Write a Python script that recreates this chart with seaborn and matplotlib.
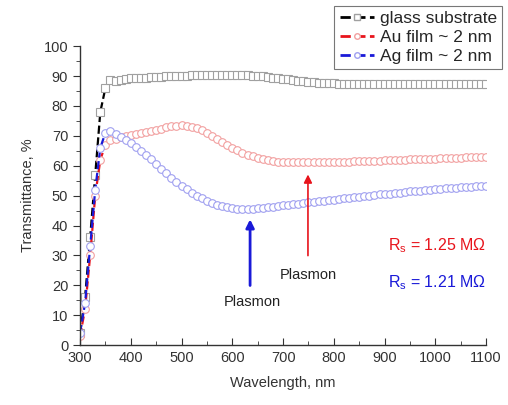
import numpy as np
import pandas as pd
import matplotlib
matplotlib.use("Agg")
import matplotlib.pyplot as plt
import seaborn as sns
from matplotlib.ticker import MultipleLocator
from matplotlib.lines import Line2D

wavelength = list(range(300, 1101, 10))

glass = [4, 16, 36, 57, 78, 86, 88.8, 88.3, 88.6, 89.0,
         89.2, 89.3, 89.4, 89.5, 89.6, 89.7, 89.8, 89.9, 90.0, 90.0,
         90.1, 90.1, 90.2, 90.2, 90.2, 90.3, 90.3, 90.3, 90.3, 90.3,
         90.3, 90.3, 90.2, 90.2, 90.1, 90.0, 89.9, 89.7, 89.5, 89.3,
         89.1, 88.9, 88.6, 88.4, 88.2, 88.0, 87.9, 87.8, 87.7, 87.6,
         87.6, 87.5, 87.5, 87.4, 87.4, 87.4, 87.4, 87.3, 87.3, 87.3,
         87.3, 87.3, 87.3, 87.2, 87.2, 87.2, 87.2, 87.2, 87.2, 87.2,
         87.2, 87.2, 87.2, 87.2, 87.2, 87.2, 87.2, 87.2, 87.2, 87.2,
         87.2]

au_film = [3, 12, 30, 50, 62, 67, 68.5, 69.0, 69.5, 70.0,
           70.3, 70.6, 71.0, 71.3, 71.7, 72.0, 72.4, 72.8, 73.2, 73.4,
           73.5, 73.3, 73.0, 72.5, 71.8, 71.0, 70.0, 69.0, 68.0, 67.0,
           66.0, 65.2, 64.4, 63.7, 63.1, 62.6, 62.2, 61.9, 61.6, 61.4,
           61.3, 61.2, 61.2, 61.1, 61.1, 61.1, 61.1, 61.1, 61.2, 61.2,
           61.3, 61.3, 61.4, 61.4, 61.5, 61.5, 61.6, 61.6, 61.7, 61.7,
           61.8, 61.9, 61.9, 62.0, 62.0, 62.1, 62.2, 62.2, 62.3, 62.3,
           62.4, 62.5, 62.5, 62.6, 62.6, 62.7, 62.8, 62.8, 62.9, 62.9,
           63.0]

ag_film = [4, 14, 33, 52, 66, 71, 71.5, 70.5, 69.5, 68.5,
           67.5, 66.3, 65.0, 63.6, 62.2, 60.6, 59.0, 57.5, 56.0, 54.6,
           53.3, 52.1, 51.0, 50.0, 49.1, 48.3, 47.6, 47.0, 46.5, 46.1,
           45.8, 45.6, 45.5, 45.5, 45.6, 45.7, 45.9, 46.1, 46.3, 46.5,
           46.7, 46.9, 47.1, 47.3, 47.5, 47.7, 47.9, 48.1, 48.3, 48.5,
           48.7, 48.9, 49.1, 49.3, 49.5, 49.6, 49.8, 50.0, 50.2, 50.4,
           50.5, 50.7, 50.9, 51.0, 51.2, 51.4, 51.6, 51.7, 51.9, 52.0,
           52.1, 52.3, 52.4, 52.6, 52.7, 52.8, 52.9, 53.0, 53.1, 53.2,
           53.3]

series_labels = ["glass substrate", "Au film ~ 2 nm", "Ag film ~ 2 nm"]

sns.set_style("ticks")
plt.rcParams["font.family"] = ["Liberation Sans", "DejaVu Sans"]

fig = plt.figure(figsize=(5.08, 4.05), dpi=100)
ax = fig.add_axes([0.1575, 0.148, 0.7995, 0.738])

styles = [
    (glass, "black", "#a0a0a0", "s"),
    (au_film, "#e8141c", "#f2a0a0", "o"),
    (ag_film, "#1a1ad8", "#a0a0f0", "o"),
]
handles = []
for (vals, lc, mc, mk), lab in zip(styles, series_labels):
    df = pd.DataFrame({"wl": wavelength, "T": vals})
    sns.lineplot(data=df, x="wl", y="T", ax=ax, color=lc, linestyle="--",
                 linewidth=1.6, marker=mk, markersize=5.5,
                 markerfacecolor="white", markeredgecolor=mc,
                 markeredgewidth=0.8, legend=False)
    handles.append(Line2D([], [], color=lc, linestyle="--", linewidth=2.0,
                          marker=mk, markersize=4, markerfacecolor="white",
                          markeredgecolor=mc, label=lab))

ax.set_xlim(300, 1100)
ax.set_ylim(0, 100)
ax.xaxis.set_major_locator(MultipleLocator(100))
ax.xaxis.set_minor_locator(MultipleLocator(50))
ax.yaxis.set_major_locator(MultipleLocator(10))
ax.yaxis.set_minor_locator(MultipleLocator(5))
sns.despine(ax=ax)
for s in ["left", "bottom"]:
    ax.spines[s].set_color("#333333")
    ax.spines[s].set_linewidth(1.0)
ax.tick_params(axis="y", which="major", direction="out", length=5, labelsize=10.5, colors="#333333")
ax.tick_params(axis="y", which="minor", direction="out", length=3, colors="#333333")
ax.tick_params(axis="x", which="major", direction="in", length=5, labelsize=10.5, colors="#333333", pad=4)
ax.tick_params(axis="x", which="minor", direction="in", length=3, colors="#333333")
ax.set_xlabel("Wavelength, nm", fontsize=10.5, color="#333333", labelpad=8)
ax.set_ylabel("Transmittance, %", fontsize=10.5, color="#333333", labelpad=6)

# arrows and annotations
ax.annotate("", xy=(635, 43), xytext=(635, 19),
            arrowprops=dict(arrowstyle="-|>", color="#1a1ad8", lw=2.0, mutation_scale=12))
ax.annotate("", xy=(749, 58), xytext=(749, 29),
            arrowprops=dict(arrowstyle="-|>", color="#e8141c", lw=1.2, mutation_scale=12))
ax.text(640, 14.4, "Plasmon", ha="center", va="center", fontsize=10.5, color="#222222")
ax.text(749, 23.4, "Plasmon", ha="center", va="center", fontsize=10.5, color="#222222")
ax.text(907, 33.4, "R$_\\mathregular{s}$ = 1.25 MΩ", ha="left", va="center", fontsize=11.5, color="#e8141c")
ax.text(907, 21.0, "R$_\\mathregular{s}$ = 1.21 MΩ", ha="left", va="center", fontsize=11.5, color="#1a1ad8")

leg = fig.legend(handles=handles, loc="upper right", bbox_to_anchor=(0.988, 0.985),
                 fontsize=12.5, frameon=True, fancybox=False, handlelength=2.0,
                 handletextpad=0.3, borderpad=0.3, labelspacing=0.2, borderaxespad=0)
leg.get_frame().set_edgecolor("#555555")
leg.get_frame().set_linewidth(0.8)

fig.savefig("out.png", dpi=100)
